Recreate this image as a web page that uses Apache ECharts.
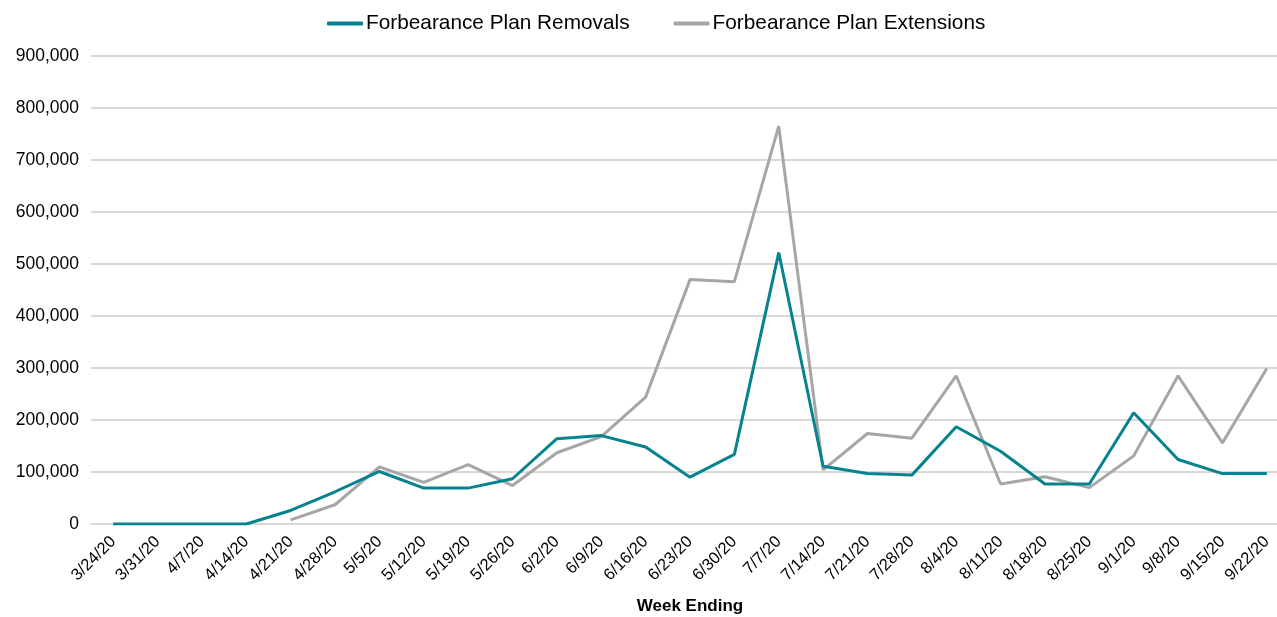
<!DOCTYPE html>
<html>
<head>
<meta charset="utf-8">
<script src="https://cdn.jsdelivr.net/npm/echarts@6/dist/echarts.min.js"></script>
<style>
  html, body { margin: 0; padding: 0; background: #fff; }
  #chart { width: 1277px; height: 617px; }
</style>
</head>
<body>
<div id="chart"></div>
<script>
// Week ending dates
var weeks = ['3/24/20', '3/31/20', '4/7/20', '4/14/20', '4/21/20', '4/28/20', '5/5/20', '5/12/20',
  '5/19/20', '5/26/20', '6/2/20', '6/9/20', '6/16/20', '6/23/20', '6/30/20', '7/7/20', '7/14/20',
  '7/21/20', '7/28/20', '8/4/20', '8/11/20', '8/18/20', '8/25/20', '9/1/20', '9/8/20', '9/15/20', '9/22/20'];

// Series values
var removals = [0, 0, 0, 0, 26000, 62000, 101000, 69000, 69000, 87000, 164000, 170000, 148000,
  90000, 134000, 522000, 111000, 97000, 94000, 187000, 140000, 77000, 77000, 214000, 124000, 97000, 97000];
var extensions = [null, null, null, null, 8000, 37000, 110000, 80000, 114000, 74000, 137000, 168000, 244000,
  470000, 466000, 765000, 104000, 174000, 165000, 285000, 77000, 91000, 70000, 131000, 285000, 156000, 299000];

var seriesNames = ['Forbearance Plan Removals', 'Forbearance Plan Extensions'];

var myChart = echarts.init(document.getElementById('chart'));
var option = {
  animation: false,
  textStyle: { fontFamily: '"Liberation Sans", Arial, sans-serif' },
  legend: {
    top: 8,
    left: 322,
    itemGap: 44,
    itemWidth: 36,
    itemHeight: 4,
    icon: 'roundRect',
    textStyle: { fontSize: 20.8, color: '#000', padding: [0, 0, 0, -2] },
    data: seriesNames
  },
  grid: {
    left: 91,
    width: 1198,
    top: 56,
    height: 468,
    containLabel: false,
    outerBoundsMode: 'none'
  },
  xAxis: {
    type: 'category',
    data: weeks,
    boundaryGap: true,
    name: 'Week Ending',
    nameLocation: 'middle',
    nameGap: 74,
    nameTextStyle: { fontSize: 17, fontWeight: 'bold', color: '#000' },
    axisLine: { show: true, lineStyle: { color: '#d9d9d9', width: 2 } },
    axisTick: { show: false },
    axisLabel: {
      interval: 0,
      rotate: 45,
      fontSize: 16.5,
      color: '#000',
      margin: 15
    }
  },
  yAxis: {
    type: 'value',
    min: 0,
    max: 900000,
    interval: 100000,
    axisLine: { show: false },
    axisTick: { show: false },
    splitLine: { lineStyle: { color: '#d9d9d9', width: 2 } },
    axisLabel: {
      fontSize: 17.5,
      color: '#000',
      margin: 12,
      formatter: function (v) { return v.toLocaleString('en-US'); }
    }
  },
  series: [
    {
      name: seriesNames[0],
      type: 'line',
      data: removals,
      symbol: 'none',
      color: '#06838f',
      lineStyle: { color: '#06838f', width: 3 },
      z: 3
    },
    {
      name: seriesNames[1],
      type: 'line',
      data: extensions,
      symbol: 'none',
      color: '#a6a6a6',
      lineStyle: { color: '#a6a6a6', width: 3 },
      z: 2
    }
  ]
};
myChart.setOption(option);
</script>
</body>
</html>
